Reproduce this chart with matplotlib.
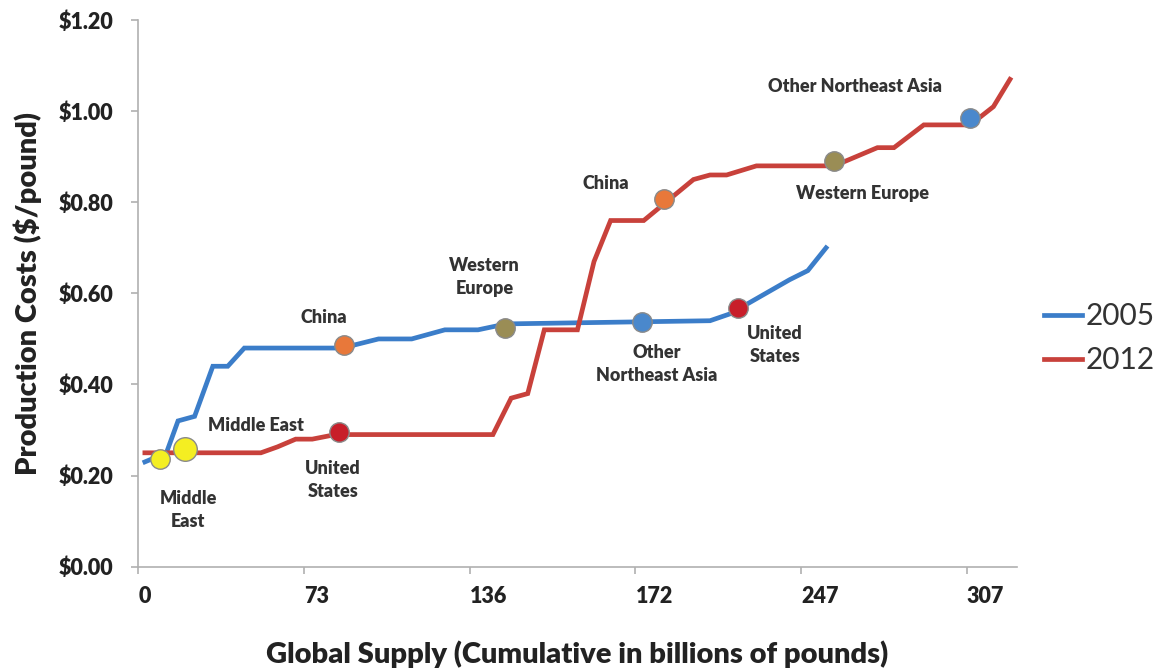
import matplotlib
matplotlib.use("Agg")
import matplotlib.pyplot as plt

# x positions are in tick units (the category ticks are evenly spaced)
tick_labels = ["0", "73", "136", "172", "247", "307"]

x_2005 = [0.04, 0.17, 0.24, 0.34, 0.45, 0.54, 0.64, 1.23, 1.45, 1.65, 1.85,
          2.05, 2.22, 3.45, 3.57, 3.93, 4.04, 4.15]
y_2005 = [0.23, 0.25, 0.32, 0.33, 0.44, 0.44, 0.48, 0.48, 0.50, 0.50, 0.52,
          0.52, 0.533, 0.54, 0.555, 0.63, 0.65, 0.70]

x_2012 = [0.04, 0.74, 0.84, 0.95, 1.05, 1.19, 2.14, 2.25, 2.35, 2.45, 2.65,
          2.75, 2.85, 3.05, 3.35, 3.45, 3.55, 3.73, 4.20, 4.46, 4.56, 4.74,
          5.02, 5.16, 5.26]
y_2012 = [0.25, 0.25, 0.263, 0.28, 0.28, 0.29, 0.29, 0.37, 0.38, 0.52, 0.52,
          0.67, 0.76, 0.76, 0.85, 0.86, 0.86, 0.88, 0.88, 0.92, 0.92, 0.97,
          0.97, 1.01, 1.07]

regions = ["Middle East", "China", "Western Europe", "Other Northeast Asia", "United States"]
region_colors = ["#f4ee22", "#e8783a", "#9a8d55", "#4a88cc", "#c81e2a"]
mx_2005 = [0.13, 1.24, 2.21, 3.04, 3.62]
my_2005 = [0.236, 0.487, 0.523, 0.537, 0.567]
mx_2012 = [0.28, 3.17, 4.20, 5.02, 1.21]
my_2012 = [0.258, 0.808, 0.89, 0.985, 0.296]

labels_2005 = ["Middle\nEast", "China", "Western\nEurope", "Other\nNortheast Asia", "United\nStates"]
labels_2012 = ["Middle East", "China", "Western Europe", "Other Northeast Asia", "United\nStates"]
lab_pos_2005 = [(0.30, 0.124), (1.12, 0.548), (2.09, 0.636), (3.13, 0.445), (3.84, 0.487)]
lab_pos_2012 = [(0.71, 0.311), (2.82, 0.842), (4.37, 0.82), (4.325, 1.055), (1.175, 0.19)]

plt.rcParams["font.family"] = ["Lato", "DejaVu Sans"]

fig = plt.figure(figsize=(11.55, 6.71), dpi=100)
ax = fig.add_axes([0.1197, 0.1555, 0.7605, 0.8145])

blue = "#3b7dc9"
red = "#c8413b"
ax.plot(x_2005, y_2005, color=blue, lw=3.4, label="2005", solid_joinstyle="miter", zorder=2)
ax.plot(x_2012, y_2012, color=red, lw=3.4, label="2012", solid_joinstyle="miter", zorder=2)

for i in range(len(regions)):
    ax.plot(mx_2005[i], my_2005[i], "o", ms=14, color=region_colors[i],
            mec="#8a8a8a", mew=1, zorder=3)
    size_r = 17 if regions[i] == "Middle East" else 14
    ax.plot(mx_2012[i], my_2012[i], "o", ms=size_r, color=region_colors[i],
            mec="#8a8a8a", mew=1, zorder=3)

txt_kw = dict(fontsize=13, fontweight="heavy", color="#333333",
              ha="center", va="center", linespacing=1.4)
for lab, (tx, ty) in zip(labels_2005, lab_pos_2005):
    ax.text(tx, ty, lab, **txt_kw)
for lab, (tx, ty) in zip(labels_2012, lab_pos_2012):
    ax.text(tx, ty, lab, **txt_kw)

ax.set_xlim(0, 5.30)
ax.set_ylim(0, 1.2)
ax.set_xticks(range(len(tick_labels)))
ax.set_xticklabels(tick_labels, ha="left")
ax.set_yticks([0, 0.2, 0.4, 0.6, 0.8, 1.0, 1.2])
ax.set_yticklabels([f"${v:.2f}" for v in [0, 0.2, 0.4, 0.6, 0.8, 1.0, 1.2]])

for s in ["top", "right"]:
    ax.spines[s].set_visible(False)
for s in ["left", "bottom"]:
    ax.spines[s].set_color("#b0b0b0")
    ax.spines[s].set_linewidth(1.2)
ax.tick_params(axis="both", colors="#b0b0b0", length=5, width=1.2, labelsize=15.5,
               labelcolor="#222222")
ax.tick_params(axis="x", pad=9)
ax.tick_params(axis="y", pad=13)
for t in ax.get_xticklabels() + ax.get_yticklabels():
    t.set_fontweight("heavy")

ax.set_xlabel("Global Supply (Cumulative in billions of pounds)", fontsize=21,
              fontweight="heavy", color="#222222", labelpad=24)
ax.set_ylabel("Production Costs ($/pound)", fontsize=21, fontweight="heavy",
              color="#222222", labelpad=12)

leg = ax.legend(loc="center left", bbox_to_anchor=(1.0, 0.418), frameon=False,
                fontsize=21.5, handlelength=1.3, handletextpad=0.1, labelspacing=0.55)
for t in leg.get_texts():
    t.set_color("#333333")

fig.savefig("out.png", dpi=100)
